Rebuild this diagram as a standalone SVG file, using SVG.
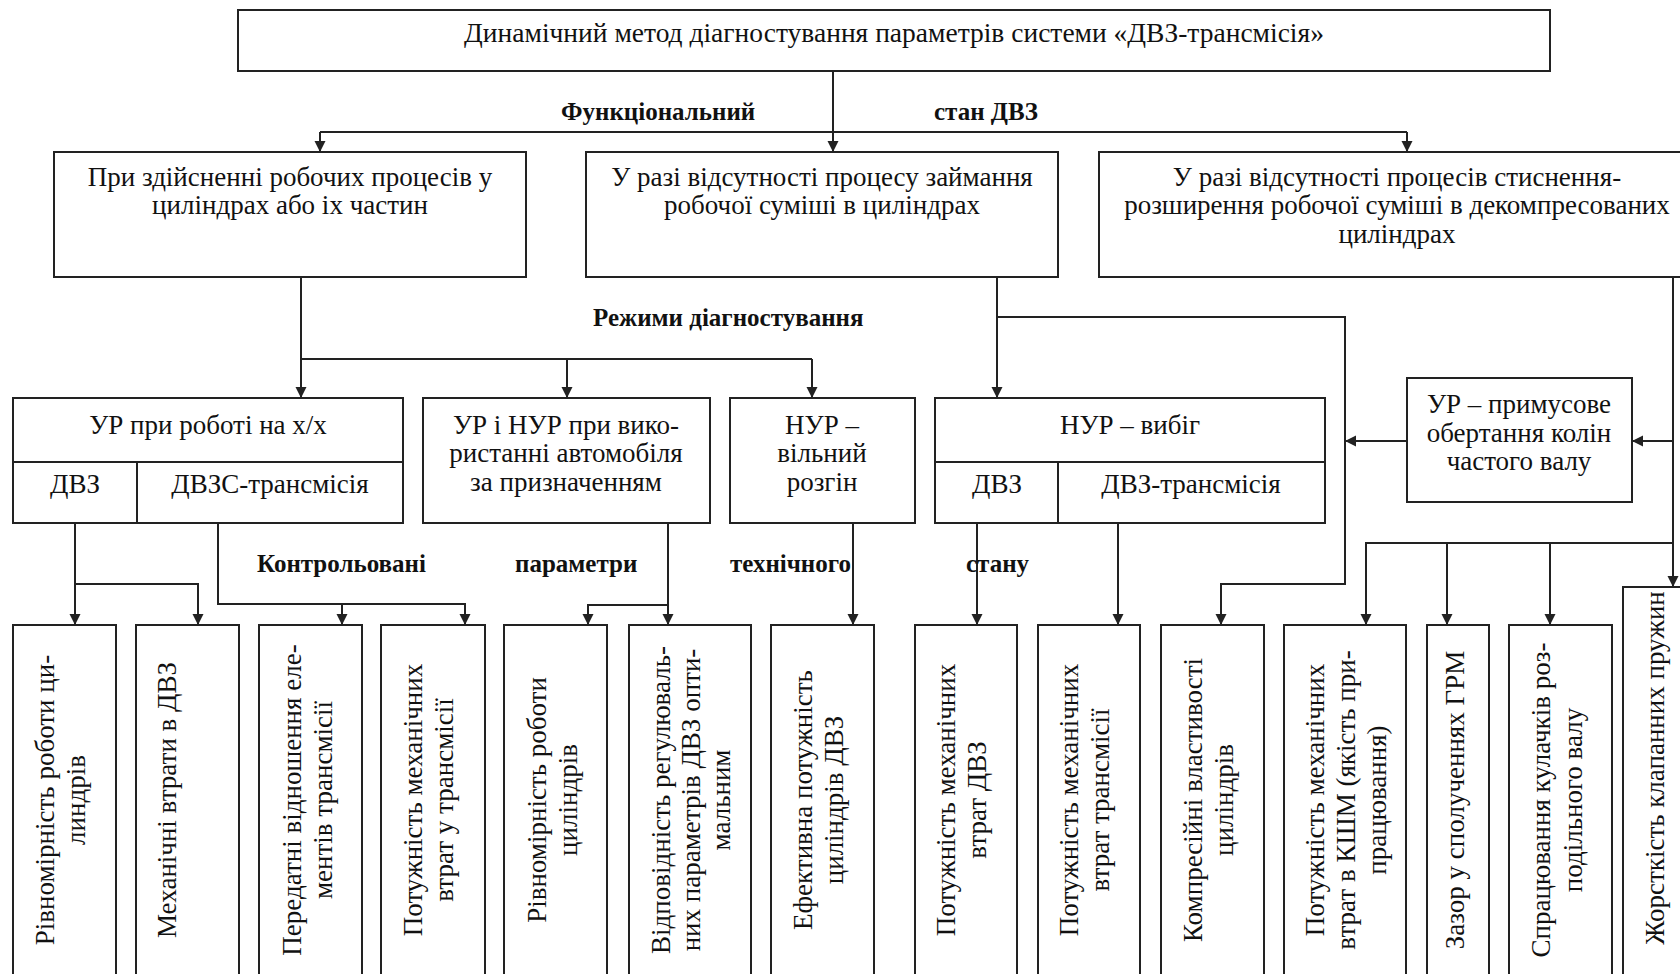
<svg xmlns="http://www.w3.org/2000/svg" width="1680" height="974" viewBox="0 0 1680 974">
<style>
.box{fill:#fff;stroke:#222;stroke-width:2}
.ln{fill:none;stroke:#222;stroke-width:2}
.t{font-family:"Liberation Serif","Times New Roman",serif;font-size:27px;fill:#111;text-anchor:middle}
.b{font-family:"Liberation Serif","Times New Roman",serif;font-size:25px;font-weight:bold;fill:#111}
</style>
<defs>
<marker id="ar" markerUnits="userSpaceOnUse" markerWidth="12" markerHeight="12" refX="11" refY="6" orient="auto">
<path d="M0,0.5 L11,6 L0,11.5 Z" fill="#222"/>
</marker>
</defs>
<rect width="1680" height="974" fill="#fff"/>

<g id="connectors" class="ln">
<path d="M833,71 V152" marker-end="url(#ar)"/>
<path d="M320,132 H1407"/>
<path d="M320,132 V152" marker-end="url(#ar)"/>
<path d="M1407,132 V152" marker-end="url(#ar)"/>
<path d="M301,277 V398" marker-end="url(#ar)"/>
<path d="M301,359 H812"/>
<path d="M567,359 V398" marker-end="url(#ar)"/>
<path d="M812,359 V398" marker-end="url(#ar)"/>
<path d="M997,277 V398" marker-end="url(#ar)"/>
<path d="M997,317 H1345 V584 H1221 V625" marker-end="url(#ar)"/>
<path d="M1407,441 H1345" marker-end="url(#ar)"/>
<path d="M1673,277 V587" marker-end="url(#ar)"/>
<path d="M1673,441 H1632" marker-end="url(#ar)"/>
<path d="M1673,543 H1366 V625" marker-end="url(#ar)"/>
<path d="M1447,543 V625" marker-end="url(#ar)"/>
<path d="M1550,543 V625" marker-end="url(#ar)"/>
<path d="M75,523 V625" marker-end="url(#ar)"/>
<path d="M75,584 H198 V625" marker-end="url(#ar)"/>
<path d="M218,523 V604 H465 V625" marker-end="url(#ar)"/>
<path d="M342,604 V625" marker-end="url(#ar)"/>
<path d="M668,523 V625" marker-end="url(#ar)"/>
<path d="M668,605 H588 V625" marker-end="url(#ar)"/>
<path d="M853,523 V625" marker-end="url(#ar)"/>
<path d="M977,523 V625" marker-end="url(#ar)"/>
<path d="M1118,523 V625" marker-end="url(#ar)"/>
</g>

<g id="labels">
<text class="b" x="561" y="120">Функціональний</text>
<text class="b" x="934" y="120">стан ДВЗ</text>
<text class="b" x="593" y="326">Режими діагностування</text>
<text class="b" x="257" y="572">Контрольовані</text>
<text class="b" x="515" y="572">параметри</text>
<text class="b" x="730" y="572">технічного</text>
<text class="b" x="966" y="572">стану</text>
</g>

<g id="n-top">
<rect class="box" x="238" y="10" width="1312" height="61"/>
<text class="t" x="894" y="42" style="font-size:27.5px">Динамічний метод діагностування параметрів системи «ДВЗ-трансмісія»</text>
</g>

<g id="n-a">
<rect class="box" x="54" y="152" width="472" height="125"/>
<text class="t" x="290"><tspan x="290" y="186">При здійсненні робочих процесів у</tspan><tspan x="290" y="214">циліндрах або іх частин</tspan></text>
</g>
<g id="n-b">
<rect class="box" x="586" y="152" width="472" height="125"/>
<text class="t"><tspan x="822" y="186">У разі відсутності процесу займання</tspan><tspan x="822" y="214">робочої суміші в циліндрах</tspan></text>
</g>
<g id="n-c">
<rect class="box" x="1099" y="152" width="600" height="125"/>
<text class="t"><tspan x="1397" y="186">У разі відсутності процесів стиснення-</tspan><tspan x="1397" y="214">розширення робочої суміші в декомпресованих</tspan><tspan x="1397" y="243">циліндрах</tspan></text>
</g>

<g id="n-ur-xx">
<rect class="box" x="13" y="398" width="390" height="125"/>
<path class="ln" d="M13,462 H403 M137,462 V523"/>
<text class="t" x="208" y="434">УР при роботі на х/х</text>
<text class="t" x="75" y="493">ДВЗ</text>
<text class="t" x="270" y="493">ДВЗС-трансмісія</text>
</g>
<g id="n-ur-nur">
<rect class="box" x="423" y="398" width="287" height="125"/>
<text class="t"><tspan x="566" y="434">УР і НУР при вико-</tspan><tspan x="566" y="462">ристанні автомобіля</tspan><tspan x="566" y="491">за призначенням</tspan></text>
</g>
<g id="n-nur-rozgin">
<rect class="box" x="730" y="398" width="185" height="125"/>
<text class="t"><tspan x="822" y="434">НУР –</tspan><tspan x="822" y="462">вільний</tspan><tspan x="822" y="491">розгін</tspan></text>
</g>
<g id="n-nur-vybig">
<rect class="box" x="935" y="398" width="390" height="125"/>
<path class="ln" d="M935,462 H1325 M1058,462 V523"/>
<text class="t" x="1130" y="434">НУР – вибіг</text>
<text class="t" x="997" y="493">ДВЗ</text>
<text class="t" x="1191" y="493">ДВЗ-трансмісія</text>
</g>
<g id="n-ur-prym">
<rect class="box" x="1407" y="378" width="225" height="124"/>
<text class="t"><tspan x="1519" y="413">УР – примусове</tspan><tspan x="1519" y="442">обертання колін</tspan><tspan x="1519" y="470">частого валу</tspan></text>
</g>

<g id="p1">
<rect class="box" x="13" y="625" width="103" height="360"/>
<text class="t" transform="translate(54,800) rotate(-90)"><tspan x="0" y="0">Рівномірність роботи ци-</tspan><tspan x="0" dy="31">линдрів</tspan></text>
</g>
<g id="p2">
<rect class="box" x="136" y="625" width="103" height="360"/>
<text class="t" transform="translate(176,800) rotate(-90)">Механічні втрати в ДВЗ</text>
</g>
<g id="p3">
<rect class="box" x="259" y="625" width="103" height="360"/>
<text class="t" transform="translate(301,800) rotate(-90)"><tspan x="0" y="0">Передатні відношення еле-</tspan><tspan x="0" dy="31">ментів трансмісії</tspan></text>
</g>
<g id="p4">
<rect class="box" x="381" y="625" width="104" height="360"/>
<text class="t" transform="translate(422,800) rotate(-90)"><tspan x="0" y="0">Потужність механічних</tspan><tspan x="0" dy="31">втрат у трансмісії</tspan></text>
</g>
<g id="p5">
<rect class="box" x="504" y="625" width="103" height="360"/>
<text class="t" transform="translate(546,800) rotate(-90)"><tspan x="0" y="0">Рівномірність роботи</tspan><tspan x="0" dy="31">циліндрів</tspan></text>
</g>
<g id="p6">
<rect class="box" x="629" y="625" width="122" height="360"/>
<text class="t" transform="translate(670,800) rotate(-90)"><tspan x="0" y="0">Відповідність регулюваль-</tspan><tspan x="0" dy="30">них параметрів ДВЗ опти-</tspan><tspan x="0" dy="30">мальним</tspan></text>
</g>
<g id="p7">
<rect class="box" x="771" y="625" width="103" height="360"/>
<text class="t" transform="translate(812,800) rotate(-90)"><tspan x="0" y="0">Ефективна потужність</tspan><tspan x="0" dy="31">циліндрів ДВЗ</tspan></text>
</g>
<g id="p8">
<rect class="box" x="915" y="625" width="102" height="360"/>
<text class="t" transform="translate(955,800) rotate(-90)"><tspan x="0" y="0">Потужність механічних</tspan><tspan x="0" dy="31">втрат ДВЗ</tspan></text>
</g>
<g id="p9">
<rect class="box" x="1038" y="625" width="102" height="360"/>
<text class="t" transform="translate(1078,800) rotate(-90)"><tspan x="0" y="0">Потужність механічних</tspan><tspan x="0" dy="31">втрат трансмісії</tspan></text>
</g>
<g id="p10">
<rect class="box" x="1161" y="625" width="103" height="360"/>
<text class="t" transform="translate(1202,800) rotate(-90)"><tspan x="0" y="0">Компресійні властивості</tspan><tspan x="0" dy="31">циліндрів</tspan></text>
</g>
<g id="p11">
<rect class="box" x="1284" y="625" width="122" height="360"/>
<text class="t" transform="translate(1324,800) rotate(-90)"><tspan x="0" y="0">Потужність механічних</tspan><tspan x="0" dy="31">втрат в КШМ (якість при-</tspan><tspan x="0" dy="31">працювання)</tspan></text>
</g>
<g id="p12">
<rect class="box" x="1427" y="625" width="62" height="360"/>
<text class="t" transform="translate(1464,800) rotate(-90)">Зазор у сполученнях ГРМ</text>
</g>
<g id="p13">
<rect class="box" x="1509" y="625" width="103" height="360"/>
<text class="t" transform="translate(1550,800) rotate(-90)"><tspan x="0" y="0">Спрацювання кулачків роз-</tspan><tspan x="0" dy="32">подільного валу</tspan></text>
</g>
<g id="p14">
<rect class="box" x="1623" y="587" width="80" height="400"/>
<text class="t" transform="translate(1664,768) rotate(-90)">Жорсткість клапанних пружин</text>
</g>
</svg>
